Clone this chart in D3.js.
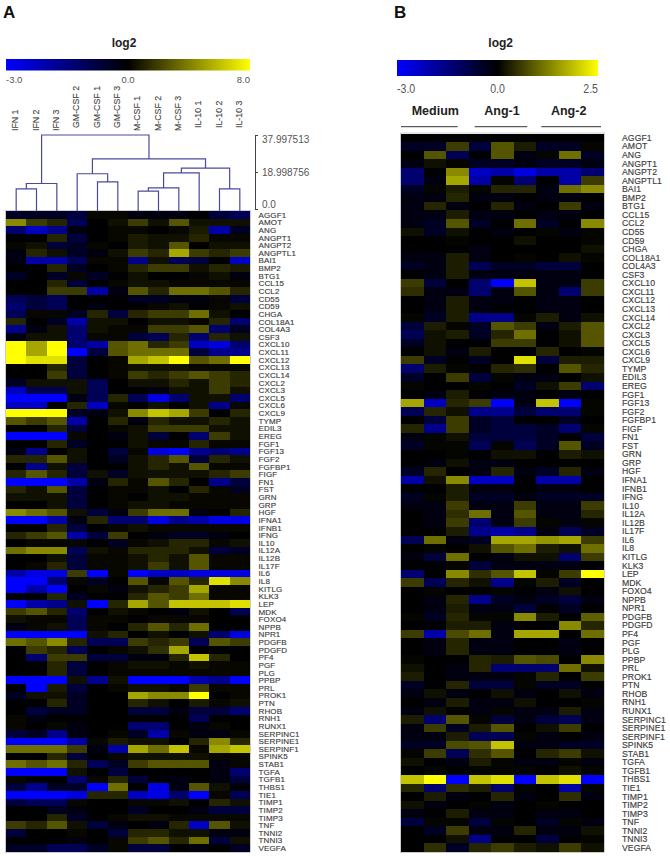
<!DOCTYPE html>
<html><head><meta charset="utf-8">
<script src="https://cdn.jsdelivr.net/npm/d3@7"></script>
<style>html,body{margin:0;padding:0;background:#fff}svg{display:block}text{font-family:"Liberation Sans",Arial,sans-serif}</style>
</head><body><div id="chart"></div>
<script>
const genes = ["AGGF1","AMOT","ANG","ANGPT1","ANGPT2","ANGPTL1","BAI1","BMP2","BTG1","CCL15","CCL2","CD55","CD59","CHGA","COL18A1","COL4A3","CSF3","CXCL10","CXCL11","CXCL12","CXCL13","CXCL14","CXCL2","CXCL3","CXCL5","CXCL6","CXCL9","TYMP","EDIL3","EREG","FGF1","FGF13","FGF2","FGFBP1","FIGF","FN1","FST","GRN","GRP","HGF","IFNA1","IFNB1","IFNG","IL10","IL12A","IL12B","IL17F","IL6","IL8","KITLG","KLK3","LEP","MDK","FOXO4","NPPB","NPR1","PDGFB","PDGFD","PF4","PGF","PLG","PPBP","PRL","PROK1","PTN","RHOB","RNH1","RUNX1","SERPINC1","SERPINE1","SERPINF1","SPINK5","STAB1","TGFA","TGFB1","THBS1","TIE1","TIMP1","TIMP2","TIMP3","TNF","TNNI2","TNNI3","VEGFA"];
const samplesA = ["IFN 1","IFN 2","IFN 3","GM-CSF 2","GM-CSF 1","GM-CSF 3","M-CSF 1","M-CSF 2","M-CSF 3","IL-10 1","IL-10 2","IL-10 3"];
const samplesB = ["M1","M2","M3","A1-1","A1-2","A1-3","A2-1","A2-2","A2-3"];
const legendA = [-3, 0, 8];
const legendB = [-3, 0, 2.5];
const dendroTicks = [0, 18.998756, 37.997513];
const groupsB = [["Medium",0,3],["Ang-1",3,6],["Ang-2",6,9]];
// Merge heights; leaves are sample indices.
const dendrogramA = {h:38,c:[
  {h:13.1,c:[{h:10.3,c:[0,1]},2]},
  {h:25.7,c:[
    {h:18.1,c:[3,{h:13.9,c:[4,5]}]},
    {h:21,c:[{h:18.5,c:[{h:10.8,c:[{h:9.2,c:[6,7]},8]},9]},{h:10.3,c:[10,11]}]}
  ]}
]};
const matrixA = [
[-.6,-.6,-.6,-.9,.4,.4,-.3,-.3,-.3,0,-.9,-1.2],
[4.8,2.4,1.6,-1.2,0,.8,2.4,.8,3.2,.8,.8,.8],
[-1.5,-2.4,-1.8,-.3,0,.4,.4,0,.4,1.2,-2.1,-.6],
[0,0,1.6,-.9,0,.4,1.2,.8,.8,1.6,.4,.4],
[.4,.8,-.9,-.6,.4,0,1.2,.8,3.2,0,.8,.8],
[-.3,1.6,.8,-.6,-.3,.8,2.4,1.6,5.6,2.4,1.6,2.4],
[-.3,-2.1,-2.1,-1.2,.4,.4,-1.8,.8,-1.2,-.9,0,-2.4],
[0,0,1.6,-.6,0,.4,1.6,2.4,2.4,.8,1.6,1.2],
[-.6,0,-.6,.4,-.6,0,.8,0,0,.4,.8,-.3],
[0,0,1.6,-.9,0,.4,.8,.8,.4,.4,.4,.4],
[0,0,2.4,2.4,-2.1,-.3,3.2,1.6,4,4,3.2,1.6],
[-1.2,-.9,-1.2,0,0,0,-.6,-.6,-.3,-.3,.4,-.9],
[-1.5,-.9,-1.2,0,-.3,0,0,.4,.8,0,.4,.8],
[-1.2,.4,.4,-.6,1.6,-.9,1.6,2.4,2.4,4,.8,0],
[1.6,0,-.6,-2.1,.8,.8,0,.8,.8,.4,1.6,-1.5],
[-1.8,-.3,.8,-1.5,.8,.4,.4,2.4,2.4,3.2,-1.5,-.6],
[-.3,.8,.8,-1.5,.4,.4,-.9,-1.2,1.6,-1.5,1.6,.8],
[8,5.6,8,-1.5,-2.1,3.2,4,1.6,2.4,-2.4,-2.7,-1.5],
[8,5.6,8,-3,-.9,3.2,4,4,4,-.9,-1.8,-1.8],
[8,7.2,7.2,-.9,0,.4,5.6,6.4,8,3.2,4,8],
[0,0,1.6,-.9,0,.4,.8,.8,.8,.4,.4,.4],
[0,0,2.4,-.9,0,.4,2.4,1.6,2.4,3.2,2.4,1.6],
[-.6,.8,.8,.8,-1.2,0,.8,.8,1.6,.8,2.4,1.6],
[-2.4,-1.2,-1.2,.8,-1.2,0,0,-.3,.8,.8,2.4,.8],
[-3,-3,-3,-.3,-1.2,1.6,-1.2,-2.7,-1.5,.8,.8,-1.5],
[-2.4,-2.4,0,1.6,-2.4,.4,0,.8,0,.8,-1.8,.4],
[8,8,8,-.6,-.3,.8,4.8,6.4,5.6,2.4,0,1.6],
[3.2,2.4,3.2,-2.1,0,1.6,-.3,1.6,.8,.8,1.6,.8],
[0,0,1.6,-.9,0,.4,.8,2.4,2.4,2.4,.8,.8],
[-3,-3,-3,.4,0,-.3,.8,-.9,0,-1.5,2.4,.8],
[0,0,1.6,-.6,0,0,.8,.4,.4,1.6,.4,.4],
[-.3,-1.8,0,.8,0,-.9,.4,-2.7,-3,-1.8,-1.5,-1.8],
[1.6,1.6,3.2,.8,0,-.6,.8,1.6,3.2,-.9,1.6,.8],
[0,-1.8,.8,-.9,0,0,.8,1.6,.8,3.2,.4,.4],
[1.6,3.2,1.6,-.9,.8,-.6,.8,.8,.8,.8,1.6,2.4],
[-3,-3,-3,-2.1,-.3,1.6,.4,3.2,1.6,0,-1.8,-.9],
[1.6,.8,3.2,-.9,0,.4,.4,.8,0,1.6,.4,-.6],
[.8,.8,.8,-.9,0,.4,0,.8,.8,.4,.4,.4],
[0,0,.8,-.9,0,.4,.8,.8,.4,.4,.4,.4],
[4.8,4,3.2,.8,-.9,-.3,2.4,4,4,-.3,0,1.6],
[-3,-3,-2.1,-.3,1.6,-1.5,-1.5,-2.7,-1.8,-2.1,-2.7,-2.7],
[0,0,1.6,-.9,0,.4,.8,.4,.4,.4,.4,.4],
[1.6,2.4,3.2,-2.1,-.9,2.4,0,-.3,-.6,-.6,-.3,0],
[0,.4,.4,.4,0,-.6,.4,.8,1.6,1.6,.4,.8],
[4,4.8,4.8,-1.2,.8,.4,1.6,1.6,1.6,.8,-.9,-.6],
[0,0,.8,-.9,.4,.4,.8,1.6,.8,3.2,.4,.4],
[0,.4,1.6,-.9,.4,.4,.8,2.4,.8,3.2,.4,.4],
[-2.1,-2.7,-2.7,2.4,-3,.4,-3,-2.4,-2.4,-2.7,-2.7,-2.7],
[-3,-3,-1.5,.4,-.6,0,3.2,.4,3.2,1.6,7.2,4.8],
[-3,-2.1,-3,0,.4,-.3,.8,1.6,2.4,5.6,.4,.4],
[0,0,1.6,-.6,0,0,1.6,3.2,2.4,4,.4,.4],
[-3,-2.1,-1.8,.8,-3,1.6,5.6,3.2,6.4,6.4,6.4,7.2],
[2.4,3.2,1.6,-1.5,0,.8,.4,0,-.3,.8,0,-1.2],
[.8,.4,.4,-1.2,.4,.4,0,.4,.4,.4,0,0],
[-.3,.4,.8,-1.2,.4,0,1.6,3.2,1.6,4,0,0],
[-3,-3,-3,-3,.8,1.6,0,.8,0,.8,-1.5,-2.7],
[4,3.2,4.8,1.6,-1.2,-1.2,2.4,1.6,2.4,-1.2,3.2,2.4],
[0,2.4,1.6,-1.2,0,.4,.8,2,5.6,0,0,0],
[0,-1.5,2.4,2.4,-.9,-.9,-.3,-.3,1.6,6.4,1.6,0],
[0,0,1.6,-.9,0,.4,.8,.8,.4,.8,.4,.4],
[0,0,1.6,-.9,0,.4,.4,.4,.4,.4,.4,.4],
[-3,-3,-3,.8,-1.8,.8,-3,-3,-3,-2.1,-1.8,-3],
[0,-3,1.2,-.9,0,.4,.8,.8,.4,2.4,.4,.4],
[-.6,.8,.8,-.6,0,0,5.6,4.8,4.8,8,0,.4],
[0,0,1.6,-.6,0,0,1.6,.8,0,1.2,.4,.8],
[0,-.9,-.6,-.6,0,0,-.9,-.9,-.3,-.9,-.9,-1.5],
[.4,-.3,0,0,0,0,0,0,0,-1.2,0,0],
[.4,0,.4,-.3,0,0,-1.5,-1.5,0,-.3,.4,0],
[-.9,-.6,-1.8,-.3,0,.4,-.6,-2.1,.4,-.3,-.3,.4],
[-3,-3,-3,-2.1,.4,1.2,.8,.8,0,1.6,4.8,1.6],
[4,4,4,2.4,-.3,-2.1,5.6,4,6.4,.4,5.6,6.4],
[0,0,1.6,-.9,0,.4,.8,.8,.8,.8,.4,.4],
[4,3.2,4,1.6,-1.2,-.6,2.4,3.2,3.2,3.2,-.3,.4],
[-3,-3,-3,.8,0,-.9,0,0,0,0,-.3,-1.5],
[.4,0,0,-1.5,.4,1.6,-.9,0,-.3,0,-.3,-.9],
[-.9,-1.8,-.6,-.6,-3,4,0,-2.7,-.3,3.2,.8,-.2],
[-3,-3,-3,-2.7,1.6,1.6,-2.4,-2.7,-1.5,-3,.4,-1.2],
[-.9,-1.2,-1.2,.4,0,0,.4,.4,.8,0,1.6,.8],
[0,0,-.6,-.3,0,0,-.6,0,0,-.3,-.9,-.9],
[0,0,1.6,-.6,0,.4,.8,.8,.4,.4,.4,.4],
[2.4,1.6,3.2,.8,-.9,-.3,0,-.3,1.6,-2.4,3.2,.8],
[-.9,0,0,.4,0,-.9,1.6,1.6,.8,.8,-.3,-.3],
[0,0,0,-.3,0,.4,2.4,3.2,1.6,4,-.9,.8],
[-.6,-.6,-1.2,-1.2,-.6,.4,-.9,-.9,0,-.3,0,-.6]
];
const matrixB = [
[0,0,0,0,0,0,0,0,0],
[-.6,-.6,.75,-.9,1,.4,-.6,-.6,.1],
[0,1,-1.2,0,1,-.3,.1,1.25,-.6],
[-.3,.25,.1,-.6,-.6,-.3,-.6,-.6,-.3],
[-1.5,0,1.5,-2.4,-2.1,-2.7,-2.1,-2.1,-1.5],
[-1.5,-.3,1.75,-2.1,.1,-1.5,0,-2.1,.75],
[-.6,.1,.4,.1,.5,.5,-.3,1.25,1.5],
[-.3,-.3,.5,-.3,-.3,0,-.3,-.3,0],
[-.3,.5,-.3,0,.5,-.3,0,.75,-.3],
[-.3,-.3,.4,-.3,-.3,0,-.3,-.3,0],
[-.3,-.6,1,-.6,0,1.25,-.6,0,1.5],
[.25,-.6,.25,0,-.3,0,.1,-.3,.1],
[0,0,.1,0,0,.25,0,0,.1],
[0,0,0,-.3,0,0,0,0,.25],
[-.3,-.3,.4,-.3,0,.1,0,.25,.1],
[-.6,-.3,.4,-1.2,-.6,-.6,-.9,-.9,0],
[0,-.3,.4,-.3,-.3,-.3,-.3,-.3,0],
[.75,-.9,0,-1.5,-3,2,-.3,-.3,.75],
[.6,-.3,-.3,-1.5,-.3,1,-.3,-1.5,.75],
[0,-.3,.4,-.3,-.3,0,-.3,-.3,0],
[0,-.3,.4,-.3,0,0,-.3,-.3,0],
[.1,-.6,.4,-1.8,-1.8,.1,.4,-.3,.25],
[-.9,.4,.1,-.6,1,.75,-.3,.4,1],
[-1.2,.25,.4,-.6,.5,1.25,0,.25,1],
[-.6,.25,0,0,.75,.75,0,.25,1],
[0,.25,-.3,.4,0,0,.5,0,.1],
[.75,-.6,0,-.6,0,2.25,-.9,.4,.4],
[-1.5,.4,.1,0,.5,.6,0,1,.5],
[-.6,0,.75,-.9,.1,-.3,-.3,0,.25],
[.1,0,0,.1,0,-.6,.25,.75,-1.5],
[0,-.3,.4,0,-.3,-.3,0,-.3,0],
[1.75,-2.4,.5,.75,-3,-.3,2,-3,.1],
[-1.2,.5,.25,-1.8,-1.8,-.9,-1.5,-1.5,.1],
[0,-.9,.75,-.6,-.9,0,0,-.6,0],
[.5,-1.8,.75,-.6,-.9,-.9,-.6,-1.5,.1],
[-.3,.1,.25,-.9,-.9,-.9,-.6,0,-.9],
[-.6,.1,.1,-1.2,.1,-1.2,-.6,1,-.6],
[0,0,.1,0,.25,.25,0,.4,.25],
[0,-.3,.25,-.3,-.3,0,0,0,0],
[-.6,.5,0,-.3,.5,-.3,-.6,.5,-.3],
[-2.1,.25,1.5,-2.4,-2.4,0,-2.1,-2.1,0],
[0,0,.4,-.3,-.3,0,-.3,-.3,0],
[-.6,.1,.4,-.6,-.6,-.3,-.6,-.6,-.6],
[-.3,-.3,.75,-.3,-.3,.75,-.3,-.3,.75],
[0,-.3,.6,1.25,-.3,1,-.3,-.3,.5],
[0,-.3,.75,-1.5,-.3,.75,.1,-.3,.1],
[0,0,.4,-1.8,-2.1,-1.8,-.3,-1.2,-.6],
[-1.2,1.25,-.3,-.6,1.75,1.75,1.6,1.75,.75],
[0,.1,0,.25,1,1.25,.4,.25,1.25],
[-.3,-.9,1.25,0,-.3,.25,.25,-1.5,.75],
[0,0,.1,-.9,-.3,-.3,-.3,-.3,0],
[-1.5,0,1.5,.6,1,2,.1,.75,2.5],
[.75,-1.2,.5,.25,-1.8,.1,.4,-.6,0],
[0,.1,0,0,.1,0,-.3,.25,0],
[0,-.3,.5,-1.8,-.6,-.3,-.6,-.9,-.3],
[0,-.3,.4,-.3,-.3,-.9,0,-.6,0],
[.1,-.6,.5,.1,.1,1.5,.4,0,1.1],
[0,0,.4,.4,-.3,0,0,1.5,.5],
[.75,-2.1,.9,1.25,-.3,1.75,1.75,0,1.25],
[0,-.3,.5,-.3,-.3,0,0,-.3,0],
[0,-.3,.5,-.3,-.3,0,0,-.3,0],
[.1,0,0,.5,.4,1,.9,0,1.5],
[.25,0,-.3,.5,-1.5,-1.5,-1.5,1.25,.25],
[.4,0,-.3,-.3,-.3,.1,.5,0,.75],
[-.6,0,.5,-.9,-.9,.1,-.6,-.6,0],
[-.3,.25,-.3,0,.25,-.3,0,.25,-.3],
[0,-.3,.4,-.3,-.3,.25,0,0,.1],
[-.3,.25,0,-.3,.1,-.3,-.3,.4,-.3],
[.4,-1.5,1,.1,-.9,-.3,-.9,-1.2,-.3],
[-.3,.75,-.6,.4,1,0,.25,.75,0],
[-.3,-.3,.4,-1.2,-1.2,.1,-.3,0,-.3],
[-.6,-.6,.9,1,2,-.3,-.3,-.6,-.6],
[.1,.75,-1.2,.6,1,0,.5,.75,.25],
[.25,0,-.3,.4,.1,-.3,-.3,.1,-.3],
[0,.1,0,.1,.1,.1,0,.25,.1],
[2,2.5,-3,2,2.25,-3,2,2.25,-3],
[.5,-1.5,.6,.4,-1.5,.1,0,-2.1,.1],
[0,.4,-.3,0,.5,-.3,0,.6,-.3],
[.25,-.3,0,.1,-.3,0,.1,0,0],
[-.3,0,.4,-.3,-.3,0,-.3,-.3,0],
[-.9,.1,.1,-.9,.1,0,-.6,.1,-.3],
[0,-.6,.75,-.3,-.3,.5,-.3,-.3,.25],
[0,0,.25,-1.8,0,0,-.9,0,.1],
[0,.6,-.6,.5,.75,.4,.25,.75,.25]
];

const svg = d3.select("#chart").append("svg").attr("width",670).attr("height",856);
const labelColor = "#3c3c3c";

function panel(cfg){
  const g = svg.append("g");
  const [lo,,hi] = cfg.legend;
  const barColor = d3.scaleLinear().domain(cfg.legend).range(["#0000ff","#000000","#ffff00"]).clamp(true);
  // cells darken slightly at low magnitudes, as in the reference image
  const mag = d3.scalePow().exponent(1.2).domain([0,1]).range([0,1]);
  const color = v => v<0 ? barColor(lo*mag(v/lo)) : barColor(hi*mag(v/hi));
  const x = d3.scaleBand().domain(d3.range(cfg.matrix[0].length)).range([cfg.x0,cfg.x1]);
  const y = d3.scaleBand().domain(genes).range([cfg.y0,cfg.y1]);

  // cells
  const cells = g.append("g").attr("shape-rendering","crispEdges").style("filter","blur(0.45px)");
  const row = cells.selectAll("g").data(cfg.matrix).join("g").attr("transform",(d,i)=>`translate(0,${y(genes[i])})`);
  row.selectAll("rect").data(d=>d).join("rect")
    .attr("x",(d,i)=>x(i)).attr("width",x.bandwidth()+.3).attr("height",y.bandwidth()+.3).attr("fill",d=>color(d));
  g.append("rect").attr("x",cfg.x0-.5).attr("y",cfg.y0-.5).attr("width",cfg.x1-cfg.x0+1).attr("height",cfg.y1-cfg.y0+1)
    .attr("fill","none").attr("stroke","#aaa").attr("stroke-width",.6);

  // gene labels
  g.append("g").selectAll("text").data(genes).join("text")
    .attr("x",cfg.labelX).attr("y",d=>y(d)+y.bandwidth()/2).attr("dy",".36em")
    .attr("font-size",cfg.geneSize).attr("letter-spacing",cfg.geneSpacing).attr("fill",labelColor)
    .attr("stroke",labelColor).attr("stroke-width",.15).text(d=>d);

  // colour bar: the 0 stop sits at the middle of the bar
  const gid = "grad"+cfg.id;
  const grad = svg.append("defs").append("linearGradient").attr("id",gid);
  cfg.legend.forEach((v,i)=>grad.append("stop").attr("offset",i/2).attr("stop-color",barColor(v)));
  g.append("rect").attr("x",cfg.barX0).attr("y",cfg.barY).attr("width",cfg.barX1-cfg.barX0).attr("height",cfg.barH).attr("fill",`url(#${gid})`);
  const lx = d3.scalePoint().domain(cfg.legend).range([cfg.barX0,cfg.barX1]);
  g.append("g").selectAll("text").data(cfg.legend).join("text")
    .attr("transform",d=>`translate(${lx(d)},${cfg.tickY}) scale(1,${cfg.tickStretch})`)
    .attr("text-anchor",(d,i)=>["start","middle","end"][i])
    .attr("font-size",cfg.tickSize).attr("fill","#555").text(d=>d.toFixed(1));
  g.append("text").attr("x",cfg.titleX).attr("y",47).attr("text-anchor","middle").attr("font-weight","bold").attr("font-size",12).attr("fill","#222").text("log2");
  g.append("text").attr("x",cfg.letterX).attr("y",17.5).attr("font-weight","bold").attr("font-size",17).attr("fill","#111").text(cfg.id);
  return {x,y};
}

const A = panel({id:"A",matrix:matrixA,legend:legendA,x0:6,x1:250,y0:211,y1:852,labelX:258.5,geneSize:8,geneSpacing:.15,
  barX0:6,barX1:250,barY:59,barH:11.5,tickY:83,tickSize:9.5,tickStretch:1,titleX:124,letterX:3});
const B = panel({id:"B",matrix:matrixB,legend:legendB,x0:401,x1:604,y0:133.5,y1:852,labelX:622,geneSize:8.7,geneSpacing:.05,
  barX0:397,barX1:598,barY:60,barH:16,tickY:92.5,tickSize:10.6,tickStretch:1.2,titleX:500.7,letterX:394});

// sample labels, panel A
svg.append("g").selectAll("text").data(samplesA).join("text")
  .attr("transform",(d,i)=>`translate(${A.x(i)+A.x.bandwidth()/2-1},${/^(GM|IL)/.test(d)?128:131}) rotate(-90)`)
  .attr("dy",".36em").attr("font-size",8.8).attr("fill","#444").attr("stroke","#444").attr("stroke-width",.12).text(d=>d);

// dendrogram, panel A
const hY = d3.scaleLinear().domain([0,dendroTicks[2]]).range([209,135]);
const dendroColor = "#4a4a9c";
const dg = svg.append("g").attr("fill","none").attr("stroke",dendroColor).attr("stroke-width",1.2);
const leafX = i=>A.x(i)+A.x.bandwidth()/2;
(function draw(n){
  if(typeof n==="number") return {x:leafX(n),y:211};
  const [l,r] = n.c.map(draw), yy = hY(n.h);
  dg.append("path").attr("d",d3.line()([[l.x,l.y],[l.x,yy],[r.x,yy],[r.x,r.y]]));
  return {x:(l.x+r.x)/2,y:yy};
})(dendrogramA);

// dendrogram axis
const axis = d3.axisRight(hY).tickValues(dendroTicks).tickSizeInner(3).tickSizeOuter(3).tickPadding(4)
  .tickFormat(d=>d===0?"0.0":String(d));
const ax = svg.append("g").attr("transform","translate(255,0)").call(axis);
ax.selectAll("path,line").attr("stroke","#444");
ax.selectAll("text").attr("font-size",10).attr("fill","#555").attr("font-family",'"Liberation Sans",Arial,sans-serif')
  .attr("dy",(d,i)=>["-.15em",".32em",".72em"][i]);

// group headers, panel B
const groupX = d3.scaleLinear().domain([0,9]).range([401,601]);
const gh = svg.append("g").selectAll("g").data(groupsB).join("g");
gh.append("text").attr("x",d=>(groupX(d[1])+groupX(d[2]))/2+1).attr("y",114.5).attr("text-anchor","middle")
  .attr("font-weight","bold").attr("font-size",12.5).attr("fill","#222").text(d=>d[0]);
gh.append("line").attr("x1",d=>groupX(d[1])+(d[1]?7:0)).attr("x2",d=>groupX(d[2])-(d[2]<9?(d[2]==3?10:7):0)).attr("y1",126.7).attr("y2",126.7)
  .attr("stroke","#333").attr("stroke-width",1);
</script></body></html>
